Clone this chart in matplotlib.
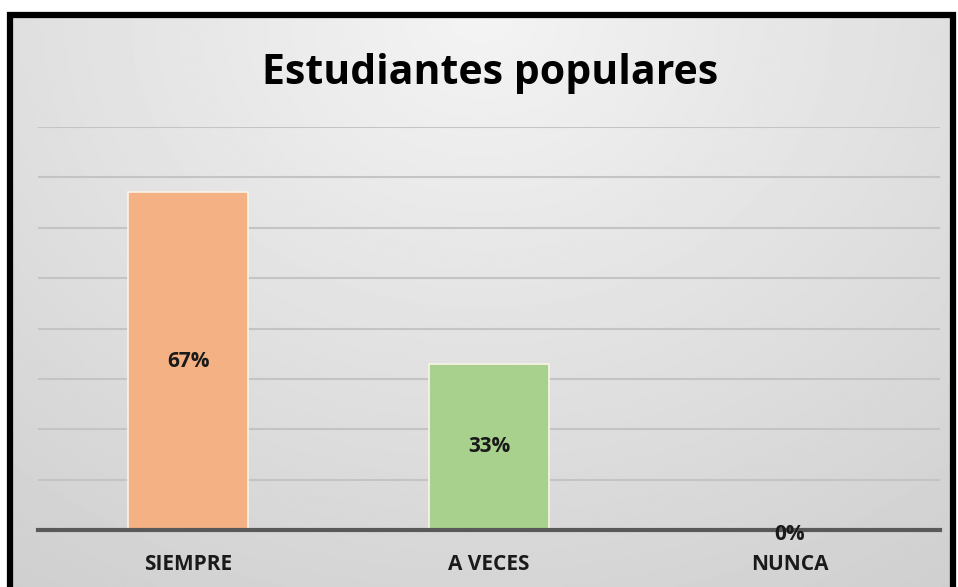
import numpy as np
import matplotlib
matplotlib.use("Agg")
import matplotlib.pyplot as plt
from matplotlib.patches import Rectangle

categories = ["SIEMPRE", "A VECES", "NUNCA"]
values = [0.67, 0.33, 0.0]
labels = ["67%", "33%", "0%"]
colors = ["#F4B183", "#A9D18E", "#9DC3E6"]
title = "Estudiantes populares"

plt.rcParams['font.family'] = ['Open Sans', 'DejaVu Sans']

W, H = 958, 587
fig = plt.figure(figsize=(W/100, H/100), dpi=100)
fig.patch.set_facecolor("white")

# background gradient inside the frame
bg = fig.add_axes([10/W, 0, (953-10)/W, (H-15)/H])
bg.set_axis_off()
yy, xx = np.mgrid[0:1:300j, 0:1:500j]
r = np.sqrt(((xx-0.5)/0.8)**2 + ((yy-0.0)/1.1)**2)
img = 0.955 - 0.13*np.clip(r, 0, 1.2)
bg.imshow(img, cmap="gray", vmin=0, vmax=1, aspect="auto", extent=[0, 1, 1, 0])
bg.set_xlim(0, 1); bg.set_ylim(1, 0)

# frame
fig.add_artist(Rectangle((10/W, -0.1), (953-10)/W, (H-15)/H + 0.1, transform=fig.transFigure,
                         fill=False, edgecolor="black", linewidth=4.5))

ax = fig.add_axes([38/W, (H-530)/H, (940-38)/W, (530-127)/H])
ax.patch.set_alpha(0)
x = np.arange(len(categories))
ax.set_xlim(-0.5, 2.5)
ax.set_ylim(0, 0.8)
ax.set_yticks(np.arange(0, 0.81, 0.1))
ax.yaxis.grid(True, color="#c4c4c4", linewidth=1.5)
ax.set_axisbelow(True)
ax.tick_params(axis="y", left=False, labelleft=False)
ax.tick_params(axis="x", length=0, pad=17)
for s in ["top", "right", "left"]:
    ax.spines[s].set_visible(False)
ax.spines["bottom"].set_color("#595959")
ax.spines["bottom"].set_linewidth(3)
ax.spines["bottom"].set_zorder(3)

bars = ax.bar(x, values, width=0.4, color=colors, edgecolor="#fbf3ea", linewidth=1.2, zorder=2)
for xi, v, lab in zip(x, values, labels):
    y = v/2 if v > 0 else -0.008
    ax.text(xi, y, lab, ha="center", va="center", fontsize=15, fontweight="bold",
            color="#1a1a1a", zorder=4)

ax.set_xticks(x)
ax.set_xticklabels(categories, fontsize=15, fontweight="bold", color="#1a1a1a")

fig.text(490/W, 1-73/H, title, ha="center", va="center", fontsize=29.5, fontweight="bold",
         color="black")

fig.savefig("out.png", dpi=100)
